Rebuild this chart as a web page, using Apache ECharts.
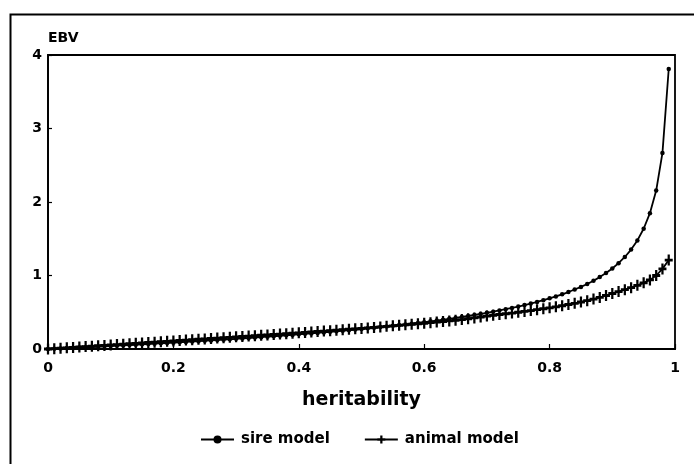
<!DOCTYPE html>
<html>
<head>
<meta charset="utf-8">
<script src="https://cdn.jsdelivr.net/npm/echarts@6/dist/echarts.min.js"></script>
<style>
html,body{margin:0;padding:0;background:#fff;}
#c{width:694px;height:464px;}
</style>
</head>
<body>
<div id="c"></div>
<script>
const heritability = [0,0.01,0.02,0.03,0.04,0.05,0.06,0.07,0.08,0.09,0.1,0.11,0.12,0.13,0.14,0.15,0.16,0.17,0.18,0.19,0.2,0.21,0.22,0.23,0.24,0.25,0.26,0.27,0.28,0.29,0.3,0.31,0.32,0.33,0.34,0.35,0.36,0.37,0.38,0.39,0.4,0.41,0.42,0.43,0.44,0.45,0.46,0.47,0.48,0.49,0.5,0.51,0.52,0.53,0.54,0.55,0.56,0.57,0.58,0.59,0.6,0.61,0.62,0.63,0.64,0.65,0.66,0.67,0.68,0.69,0.7,0.71,0.72,0.73,0.74,0.75,0.76,0.77,0.78,0.79,0.8,0.81,0.82,0.83,0.84,0.85,0.86,0.87,0.88,0.89,0.9,0.91,0.92,0.93,0.94,0.95,0.96,0.97,0.98,0.99];
const sireModel = [0,0.004,0.008,0.012,0.016,0.020,0.024,0.028,0.032,0.036,0.041,0.045,0.049,0.054,0.058,0.063,0.067,0.072,0.077,0.081,0.086,0.091,0.096,0.101,0.106,0.111,0.116,0.122,0.127,0.132,0.138,0.144,0.149,0.155,0.161,0.167,0.173,0.179,0.186,0.192,0.199,0.206,0.212,0.219,0.226,0.234,0.241,0.249,0.256,0.264,0.272,0.281,0.289,0.298,0.307,0.316,0.325,0.335,0.345,0.355,0.365,0.376,0.387,0.399,0.411,0.423,0.436,0.449,0.463,0.477,0.492,0.508,0.524,0.541,0.559,0.578,0.597,0.618,0.640,0.664,0.689,0.715,0.744,0.775,0.809,0.845,0.885,0.929,0.978,1.033,1.096,1.168,1.252,1.353,1.477,1.636,1.848,2.156,2.668,3.81];
const animalModel = [0,0.005,0.011,0.016,0.022,0.027,0.033,0.038,0.044,0.049,0.055,0.060,0.066,0.071,0.077,0.082,0.088,0.093,0.099,0.104,0.110,0.115,0.121,0.126,0.132,0.137,0.143,0.148,0.154,0.159,0.165,0.170,0.176,0.181,0.187,0.192,0.198,0.203,0.209,0.214,0.220,0.226,0.232,0.238,0.244,0.250,0.256,0.262,0.268,0.274,0.280,0.287,0.294,0.301,0.308,0.315,0.322,0.329,0.336,0.343,0.350,0.358,0.366,0.374,0.382,0.390,0.400,0.411,0.423,0.436,0.448,0.459,0.469,0.479,0.489,0.500,0.511,0.523,0.535,0.547,0.560,0.574,0.589,0.605,0.621,0.639,0.658,0.679,0.702,0.728,0.755,0.781,0.807,0.835,0.866,0.900,0.940,1.000,1.090,1.210];
const xTicks = ['0','0.2','0.4','0.6','0.8','1'];
const yTicks = ['0','1','2','3','4'];

const FONT = 'DejaVu Sans';
const plusPath = 'path://M3.6,0 L6.4,0 L6.4,3.7 L10,3.7 L10,6.3 L6.4,6.3 L6.4,10 L3.6,10 L3.6,6.3 L0,6.3 L0,3.7 L3.6,3.7 Z';

const chart = echarts.init(document.getElementById('c'), null, {renderer:'canvas'});
chart.setOption({
  backgroundColor:'#fff',
  animation:false,
  textStyle:{fontFamily:FONT, color:'#000'},
  graphic:[{
    type:'rect', left:8, top:12, shape:{x:0,y:0,width:700,height:480},
    style:{fill:'none', stroke:'#000', lineWidth:2}, silent:true
  }],
  grid:{left:48, right:19, top:55, bottom:115, show:true, borderColor:'#000', borderWidth:1.8, backgroundColor:'transparent'},
  legend:{
    left:195, top:427, itemWidth:33, itemHeight:10, itemGap:34,
    textStyle:{fontFamily:FONT, fontWeight:'bold', fontSize:15, color:'#000', padding:[0,0,0,2]},
    data:['sire model','animal model']
  },
  xAxis:{
    type:'value', min:0, max:1, interval:0.2,
    name:'heritability', nameLocation:'middle', nameGap:42,
    nameTextStyle:{fontFamily:FONT, fontWeight:'bold', fontSize:19, color:'#000'},
    axisLine:{show:true, lineStyle:{color:'#000', width:1.8}},
    axisTick:{show:true, inside:true, length:5, lineStyle:{color:'#000', width:1.2}},
    axisLabel:{margin:12, fontFamily:FONT, fontWeight:'bold', fontSize:14, color:'#000',
      formatter:function(v){ const i=Math.round(v/0.2); return xTicks[i]; }},
    splitLine:{show:false}
  },
  yAxis:{
    type:'value', min:0, max:4, interval:1,
    name:'EBV', nameLocation:'end', nameGap:17,
    nameTextStyle:{fontFamily:FONT, fontWeight:'bold', fontSize:14, color:'#000', align:'left', verticalAlign:'middle'},
    axisLine:{show:true, lineStyle:{color:'#000', width:1.8}},
    axisTick:{show:true, inside:true, length:4, lineStyle:{color:'#000', width:1.2}},
    axisLabel:{margin:6, fontFamily:FONT, fontWeight:'bold', fontSize:14, color:'#000',
      formatter:function(v){ return yTicks[Math.round(v)]; }},
    splitLine:{show:false}
  },
  series:[
    {
      name:'sire model', type:'line', data:heritability.map((h,i)=>[h,sireModel[i]]),
      symbol:'circle', symbolSize:4.5, showAllSymbol:true,
      lineStyle:{color:'#000', width:1.8}, itemStyle:{color:'#000'}, z:3
    },
    {
      name:'animal model', type:'line', data:heritability.map((h,i)=>[h,animalModel[i]]),
      symbol:plusPath, symbolSize:[8,11], showAllSymbol:true,
      lineStyle:{color:'#000', width:1.8}, itemStyle:{color:'#000'}, z:4
    }
  ]
});
</script>
</body>
</html>
